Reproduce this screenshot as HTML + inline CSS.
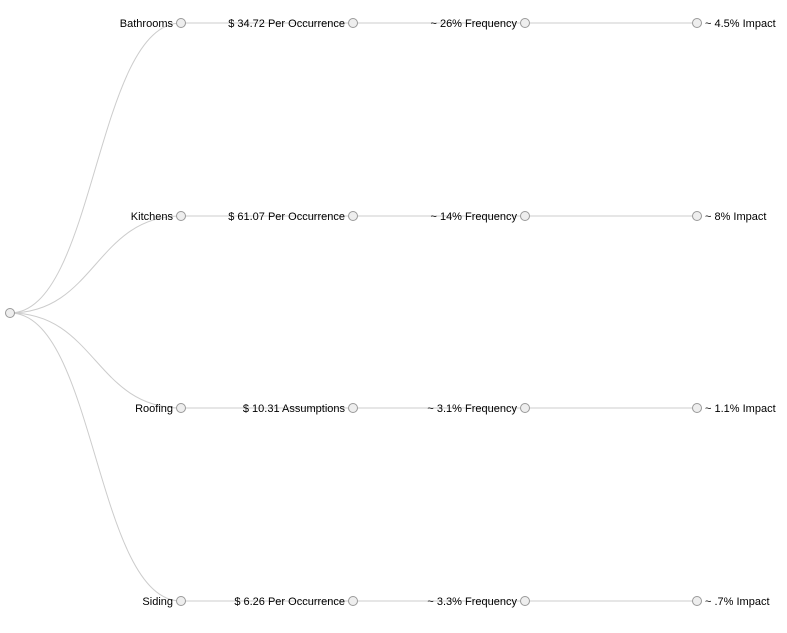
<!DOCTYPE html>
<html><head><meta charset="utf-8"><style>
html,body{margin:0;padding:0;background:#fff;}
svg{display:block;}
.link{fill:none;stroke:#ccc;stroke-width:1;}
.node circle{fill:#eee;stroke:#999;stroke-width:1;}
text{font-family:"Liberation Sans",Arial,sans-serif;font-size:11px;fill:#000;}
</style></head><body>
<svg width="787" height="633" viewBox="0 0 787 633">
<g>
<path class="link" d="M10,313C95.5,313 95.5,23 181,23"/>
<path class="link" d="M10,313C95.5,313 95.5,216 181,216"/>
<path class="link" d="M10,313C95.5,313 95.5,408 181,408"/>
<path class="link" d="M10,313C95.5,313 95.5,601 181,601"/>
<path class="link" d="M181,23H697"/>
<path class="link" d="M181,216H697"/>
<path class="link" d="M181,408H697"/>
<path class="link" d="M181,601H697"/>
</g>
<g class="node">
<circle cx="10" cy="313" r="4.5"/>
<circle cx="181" cy="23" r="4.5"/><circle cx="353" cy="23" r="4.5"/><circle cx="525" cy="23" r="4.5"/><circle cx="697" cy="23" r="4.5"/>
<circle cx="181" cy="216" r="4.5"/><circle cx="353" cy="216" r="4.5"/><circle cx="525" cy="216" r="4.5"/><circle cx="697" cy="216" r="4.5"/>
<circle cx="181" cy="408" r="4.5"/><circle cx="353" cy="408" r="4.5"/><circle cx="525" cy="408" r="4.5"/><circle cx="697" cy="408" r="4.5"/>
<circle cx="181" cy="601" r="4.5"/><circle cx="353" cy="601" r="4.5"/><circle cx="525" cy="601" r="4.5"/><circle cx="697" cy="601" r="4.5"/>
</g>
<g text-anchor="end">
<text x="173" y="27">Bathrooms</text><text x="345" y="27">$ 34.72 Per Occurrence</text><text x="517" y="27">~ 26% Frequency</text>
<text x="173" y="220">Kitchens</text><text x="345" y="220">$ 61.07 Per Occurrence</text><text x="517" y="220">~ 14% Frequency</text>
<text x="173" y="412">Roofing</text><text x="345" y="412">$ 10.31 Assumptions</text><text x="517" y="412">~ 3.1% Frequency</text>
<text x="173" y="605">Siding</text><text x="345" y="605">$ 6.26 Per Occurrence</text><text x="517" y="605">~ 3.3% Frequency</text>
</g>
<g>
<text x="705" y="27">~ 4.5% Impact</text>
<text x="705" y="220">~ 8% Impact</text>
<text x="705" y="412">~ 1.1% Impact</text>
<text x="705" y="605">~ .7% Impact</text>
</g>
</svg>
</body></html>
